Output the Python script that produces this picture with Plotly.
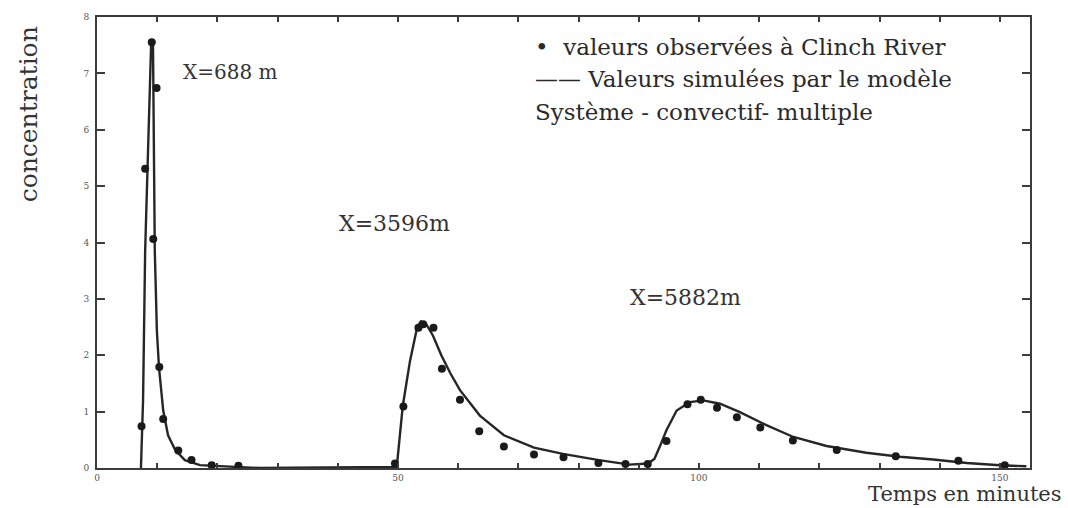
import plotly.graph_objects as go

# Observed concentrations at the three stations (time in minutes)
obs_t = [7.4, 8.0, 9.1, 9.35, 9.9, 10.35, 11.0, 13.5, 15.7, 19.05, 23.5,
         49.5, 50.9, 53.4, 54.2, 55.9, 57.3, 60.3, 63.5, 67.6, 72.6, 77.5, 83.3, 87.8,
         91.5, 94.6, 98.1, 100.3, 103.0, 106.3, 110.2, 115.6, 122.9, 132.7, 143.1, 150.8]
obs_c = [0.74, 5.31, 7.55, 4.06, 6.74, 1.79, 0.87, 0.31, 0.14, 0.05, 0.04,
         0.08, 1.09, 2.49, 2.55, 2.49, 1.76, 1.21, 0.65, 0.38, 0.24, 0.19, 0.09, 0.07,
         0.07, 0.48, 1.13, 1.21, 1.07, 0.90, 0.72, 0.49, 0.32, 0.21, 0.13, 0.05]

# Simulated response of the multiple convective system
sim_t = [7.3, 7.65, 8.0, 8.5, 9.0, 9.3, 9.4, 9.6, 9.95, 10.3, 11.0, 11.8, 13.0, 14.6, 17.1, 22.0, 27.0,
         49.8, 50.2, 50.8, 52.0, 53.2, 53.8, 54.6, 55.8, 57.2, 58.7, 60.3, 63.6, 67.6, 72.6, 77.4,
         83.4, 88.5, 91.5, 92.6, 93.5, 94.6, 96.3, 98.5, 100.7, 103.5, 106.8, 111.2, 115.7, 121.2,
         127.8, 133.4, 138.9, 144.5, 150.0, 154.4]
sim_c = [0.0, 1.2, 3.85, 5.6, 7.55, 7.55, 5.6, 3.85, 2.43, 1.78, 1.02, 0.58, 0.32, 0.14, 0.05, 0.02, 0.0,
         0.02, 0.5, 1.1, 1.9, 2.5, 2.6, 2.57, 2.35, 2.0, 1.68, 1.38, 0.93, 0.58, 0.36, 0.25,
         0.14, 0.06, 0.08, 0.16, 0.38, 0.67, 1.02, 1.17, 1.2, 1.14, 0.99, 0.76, 0.55, 0.39,
         0.27, 0.20, 0.15, 0.09, 0.05, 0.03]

# Station labels
station_text = ["X=688 m", "X=3596m", "X=5882m"]
station_t = [22.1, 49.5, 97.8]
station_c = [7.02, 4.34, 3.03]
station_size = [20, 22, 22]

x_tickvals = [0, 10, 20, 30, 40, 50, 60, 70, 80, 90, 100, 110, 120, 130, 140, 150]
x_ticktext = ["0", "", "", "", "", "50", "", "", "", "", "100", "", "", "", "", "150"]
y_tickvals = [0, 1, 2, 3, 4, 5, 6, 7, 8]
y_ticktext = ["0", "1", "2", "3", "4", "5", "6", "7", "8"]

INK = "#262626"
AXIS = "#3c3c3c"
SERIF = "DejaVu Serif"

fig = go.Figure()
fig.add_trace(go.Scatter(x=sim_t, y=sim_c, mode="lines",
                         line=dict(color=INK, width=2.4), showlegend=False))
fig.add_trace(go.Scatter(x=obs_t, y=obs_c, mode="markers",
                         marker=dict(color="#1a1a1a", size=8), showlegend=False))

for txt, t, c, s in zip(station_text, station_t, station_c, station_size):
    fig.add_annotation(x=t, y=c, xref="x", yref="y", text=txt, showarrow=False,
                       font=dict(family=SERIF, size=s, color="#333"))

# Key written in the upper right of the plot
key_rows = ["\u2022  valeurs observées à Clinch River",
            "\u2014\u2014 Valeurs simulées par le modèle",
            "Système - convectif- multiple"]
key_y = [0.933, 0.862, 0.789]
for txt, yy in zip(key_rows, key_y):
    fig.add_annotation(x=0.467, y=yy, xref="paper", yref="paper", text=txt,
                       showarrow=False, xanchor="left", yanchor="middle",
                       font=dict(family=SERIF, size=23, color="#2a2a2a"))

fig.add_annotation(x=-0.074, y=0.784, xref="paper", yref="paper", text="concentration",
                   textangle=-90, showarrow=False, xanchor="center", yanchor="middle",
                   font=dict(family=SERIF, size=25, color="#333"))
fig.add_annotation(x=1.036, y=-0.0895, xref="paper", yref="paper", text="Temps en minutes",
                   showarrow=False, xanchor="right", yanchor="bottom",
                   font=dict(family=SERIF, size=21, color="#333"))

axis_common = dict(showgrid=False, zeroline=False, showline=True, linecolor=AXIS,
                   linewidth=2, mirror="ticks", ticks="inside", tickcolor=AXIS,
                   tickwidth=1.5, tickfont=dict(family=SERIF, size=9, color="#555"))
fig.update_xaxes(range=[0, 155], tickvals=x_tickvals, ticktext=x_ticktext, ticklen=5,
                 **axis_common)
fig.update_yaxes(range=[0, 8], tickvals=y_tickvals, ticktext=y_ticktext, ticklen=8,
                 ticklabelstandoff=4, **axis_common)

fig.update_layout(width=1068, height=508, margin=dict(l=97, r=38, t=14, b=40),
                  plot_bgcolor="white", paper_bgcolor="white", showlegend=False)

fig.write_html("out.html")
